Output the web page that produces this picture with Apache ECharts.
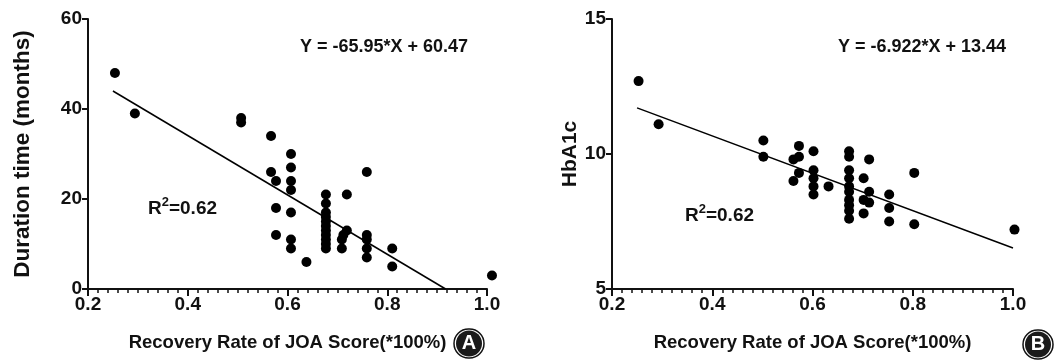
<!DOCTYPE html>
<html><head><meta charset="utf-8">
<script src="https://cdn.jsdelivr.net/npm/echarts@6/dist/echarts.min.js"></script>
<style>html,body{margin:0;padding:0;background:#fff}#c{width:1063px;height:360px}#err{position:absolute;left:0;top:0;font:10px monospace;color:red}</style>
</head><body><div id="c"></div><div id="err"></div>
<script>
window.onerror=function(m){document.getElementById('err').textContent+=' ERR:'+m;};
// Panel A: Recovery rate vs duration time (months)
const pointsA = [[0.254,48],[0.294,39],[0.507,38],[0.507,37],[0.567,34],[0.567,26],[0.577,24],[0.577,18],[0.577,12],
  [0.607,30],[0.607,27],[0.607,24],[0.607,22],[0.607,17],[0.607,11],[0.607,9],[0.638,6],
  [0.677,21],[0.677,19],[0.677,17],[0.677,16],[0.677,15],[0.677,14],[0.677,13],[0.677,12],[0.677,11],[0.677,10],[0.677,9],
  [0.719,21],[0.719,13],[0.712,12],[0.709,11],[0.709,9],
  [0.759,26],[0.759,12],[0.759,11],[0.759,9],[0.759,7],[0.81,9],[0.81,5],[1.01,3]];
const fitA = [[0.25,44.0],[0.917,0]];
// Panel B: Recovery rate vs HbA1c
const pointsB = [[0.253,12.7],[0.293,11.1],[0.502,10.5],[0.502,9.9],[0.573,10.3],[0.573,9.9],[0.562,9.8],[0.573,9.3],[0.562,9.0],
  [0.602,10.1],[0.602,9.4],[0.602,9.1],[0.602,8.8],[0.602,8.5],[0.632,8.8],
  [0.673,10.1],[0.673,9.9],[0.673,9.4],[0.673,9.1],[0.673,8.8],[0.673,8.6],[0.673,8.3],[0.673,8.1],[0.673,7.9],[0.673,7.6],
  [0.713,9.8],[0.713,8.6],[0.713,8.2],[0.702,9.1],[0.702,8.3],[0.702,7.8],
  [0.753,8.5],[0.753,8.0],[0.753,7.5],[0.803,9.3],[0.803,7.4],[1.003,7.2]];
const fitB = [[0.25,11.71],[1.0,6.52]];
const xTitle = 'Recovery Rate of JOA Score(*100%)';
const yTitleA = 'Duration time (months)';
const yTitleB = 'HbA1c';
const eqA = 'Y = -65.95*X + 60.47';
const eqB = 'Y = -6.922*X + 13.44';
const r2 = '0.62';

const FONT = '"Liberation Sans", Arial, sans-serif';
const black = '#111';
function xAxis(gi){
  return {gridIndex:gi,type:'value',min:0.2,max:1.0,interval:0.2,
    name:xTitle,nameLocation:'middle',nameGap:44,
    nameTextStyle:{fontFamily:FONT,fontWeight:'bold',fontSize:18.5,color:black},
    axisLine:{show:true,lineStyle:{color:black,width:2}},
    axisTick:{show:true,length:7,lineStyle:{color:black,width:2}},
    minorTick:{show:true,splitNumber:10,length:4,lineStyle:{color:black,width:1.5}},
    splitLine:{show:false},minorSplitLine:{show:false},
    axisLabel:{fontFamily:FONT,fontWeight:'bold',fontSize:19,color:black,margin:6,formatter:v=>v.toFixed(1)}};
}
function yAxis(gi,min,max,iv,name,gap,fs){
  return {gridIndex:gi,type:'value',min:min,max:max,interval:iv,
    name:name,nameLocation:'middle',nameGap:gap,
    nameTextStyle:{fontFamily:FONT,fontWeight:'bold',fontSize:fs,color:black},
    axisLine:{show:true,lineStyle:{color:black,width:2}},
    axisTick:{show:true,length:6,lineStyle:{color:black,width:2}},
    splitLine:{show:false},
    axisLabel:{fontFamily:FONT,fontWeight:'bold',fontSize:19,color:black,margin:6}};
}
function eqTitle(text,left,top){
  return {text:text,left:left,top:top,padding:0,
    textStyle:{fontFamily:FONT,fontWeight:'bold',fontSize:18,color:black}};
}
function rTitle(left,top){
  return {text:'{r|R}{s|2}{r|='+r2+'}',left:left,top:top,padding:0,
    textStyle:{rich:{
      r:{fontFamily:FONT,fontWeight:'bold',fontSize:19,color:black,lineHeight:22,verticalAlign:'bottom'},
      s:{fontFamily:FONT,fontWeight:'bold',fontSize:13,color:black,lineHeight:22,verticalAlign:'top'}}}};
}
function badge(letter,left,top){
  return {text:'{c|'+letter+'}',left:left,top:top,padding:2,backgroundColor:'#fff',
    borderColor:black,borderWidth:1.5,borderRadius:16,
    textStyle:{rich:{c:{width:26,height:26,lineHeight:27,align:'center',backgroundColor:'#1a1a1a',borderRadius:13,
      color:'#fff',fontFamily:FONT,fontWeight:'bold',fontSize:20}}}};
}
const chart = echarts.init(document.getElementById('c'));
chart.setOption({
  animation:false,
  title:[eqTitle(eqA,300,38),eqTitle(eqB,838,38),rTitle(148,196),rTitle(685,203),
    badge('A',454,328),badge('B',1023,329)],
  grid:[{left:88,top:19,width:399,height:270},{left:612,top:19,width:401,height:270}],
  xAxis:[xAxis(0),xAxis(1)],
  yAxis:[yAxis(0,0,60,20,yTitleA,54,22.5),yAxis(1,5,15,5,yTitleB,28,21)],
  series:[
    {type:'scatter',xAxisIndex:0,yAxisIndex:0,data:pointsA,symbolSize:10,clip:false,itemStyle:{color:'#000',opacity:1}},
    {type:'line',xAxisIndex:0,yAxisIndex:0,data:fitA,symbol:'none',lineStyle:{color:'#000',width:1.5}},
    {type:'scatter',xAxisIndex:1,yAxisIndex:1,data:pointsB,symbolSize:10,clip:false,itemStyle:{color:'#000',opacity:1}},
    {type:'line',xAxisIndex:1,yAxisIndex:1,data:fitB,symbol:'none',lineStyle:{color:'#000',width:1.5}}
  ]
});
</script></body></html>
